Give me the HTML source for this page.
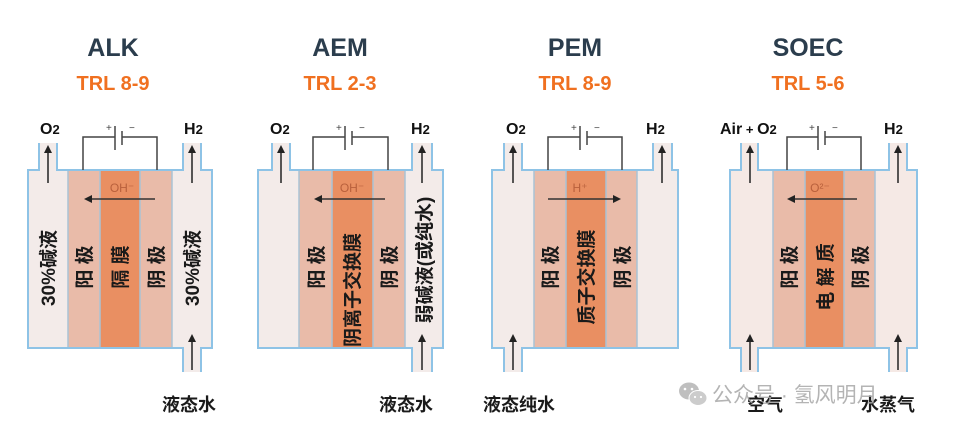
<!DOCTYPE html>
<html><head><meta charset="utf-8"><style>
html,body{margin:0;padding:0;background:#fff;}
svg{display:block;}
.t{font-family:"Liberation Sans","Noto Sans CJK SC",sans-serif;font-weight:bold;}
.c{font-family:"Liberation Sans","Noto Sans CJK SC",sans-serif;font-weight:bold;font-size:19px;fill:#1a1a1a;}
.b{font-family:"Liberation Sans","Noto Sans CJK SC",sans-serif;font-weight:bold;font-size:18px;fill:#1a1a1a;}
</style></head><body>
<svg width="954" height="430" viewBox="0 0 954 430" xmlns="http://www.w3.org/2000/svg">
<defs>
<marker id="ah" markerWidth="8" markerHeight="8" refX="6" refY="4" orient="auto" markerUnits="userSpaceOnUse"><path d="M0,0 L8,4 L0,8 z" fill="#222"/></marker>
</defs>
<g class="t" text-anchor="middle">
<text x="113" y="56" font-size="25" fill="#2b3d4d">ALK</text>
<text x="113" y="90" font-size="20" fill="#f07020">TRL 8-9</text>
<text x="340" y="56" font-size="25" fill="#2b3d4d">AEM</text>
<text x="340" y="90" font-size="20" fill="#f07020">TRL 2-3</text>
<text x="575" y="56" font-size="25" fill="#2b3d4d">PEM</text>
<text x="575" y="90" font-size="20" fill="#f07020">TRL 8-9</text>
<text x="808" y="56" font-size="25" fill="#2b3d4d">SOEC</text>
<text x="808" y="90" font-size="20" fill="#f07020">TRL 5-6</text>
</g>

<!-- ALK -->
<g>
<rect x="39" y="143" width="18" height="30" fill="#f3ebe9"/>
<rect x="183" y="143" width="18" height="229" fill="#f3ebe9"/>
<rect x="28" y="170" width="40" height="178" fill="#f3ebe9"/>
<rect x="68" y="170" width="32" height="178" fill="#e9bba9"/>
<rect x="100" y="170" width="40" height="178" fill="#e98f62"/>
<rect x="140" y="170" width="32" height="178" fill="#e9bba9"/>
<rect x="172" y="170" width="40" height="178" fill="#f3ebe9"/>
<g stroke="#a9c3d6" stroke-width="1.5"><line x1="68" y1="170" x2="68" y2="348"/><line x1="100" y1="170" x2="100" y2="348"/><line x1="140" y1="170" x2="140" y2="348"/><line x1="172" y1="170" x2="172" y2="348"/></g>
<path d="M39,143V170H28V348H183V372 M201,372V348H212V170H201V143 M57,143V170H183V143" fill="none" stroke="#8ec3e6" stroke-width="2"/>
<path d="M83,170V137H115 M122,137H157V170" fill="none" stroke="#444" stroke-width="1.5"/>
<line x1="115" y1="126" x2="115" y2="150" stroke="#444" stroke-width="1.5"/><line x1="122" y1="131" x2="122" y2="145" stroke="#444" stroke-width="1.5"/>
<text x="106" y="131" font-size="10" fill="#444" font-family="Liberation Sans">+</text><text x="129" y="131" font-size="10" fill="#444" font-family="Liberation Sans">−</text>
<line x1="48" y1="183" x2="48" y2="147" stroke="#222" stroke-width="1.5" marker-end="url(#ah)"/>
<line x1="192" y1="183" x2="192" y2="147" stroke="#222" stroke-width="1.5" marker-end="url(#ah)"/>
<line x1="192" y1="370" x2="192" y2="336" stroke="#222" stroke-width="1.5" marker-end="url(#ah)"/>
<line x1="155" y1="199" x2="86" y2="199" stroke="#333" stroke-width="1.5" marker-end="url(#ah)"/>
<text x="122" y="192" font-size="12" fill="#b8603c" font-family="Liberation Sans" text-anchor="middle">OH⁻</text>
<text class="c" transform="translate(55,268) rotate(-90)" text-anchor="middle">30%碱液</text>
<text class="c" transform="translate(199,268) rotate(-90)" text-anchor="middle">30%碱液</text>
<text class="c" transform="translate(91,267) rotate(-90)" text-anchor="middle">阳  极</text>
<text class="c" transform="translate(127,267) rotate(-90)" text-anchor="middle">隔  膜</text>
<text class="c" transform="translate(163,267) rotate(-90)" text-anchor="middle">阴  极</text>
<text class="t" x="40" y="134" font-size="16" fill="#111">O<tspan font-size="13">2</tspan></text>
<text class="t" x="184" y="134" font-size="16" fill="#111">H<tspan font-size="13">2</tspan></text>
<text class="b" x="189" y="411" text-anchor="middle">液态水</text>
</g>

<!-- AEM -->
<g>
<rect x="272" y="143" width="18" height="30" fill="#f3ebe9"/>
<rect x="412" y="143" width="20" height="229" fill="#f3ebe9"/>
<rect x="258" y="170" width="41" height="178" fill="#f3ebe9"/>
<rect x="299" y="170" width="33" height="178" fill="#e9bba9"/>
<rect x="332" y="170" width="41" height="178" fill="#e98f62"/>
<rect x="373" y="170" width="32" height="178" fill="#e9bba9"/>
<rect x="405" y="170" width="38" height="178" fill="#f3ebe9"/>
<g stroke="#a9c3d6" stroke-width="1.5"><line x1="299" y1="170" x2="299" y2="348"/><line x1="332" y1="170" x2="332" y2="348"/><line x1="373" y1="170" x2="373" y2="348"/><line x1="405" y1="170" x2="405" y2="348"/></g>
<path d="M272,143V170H258V348H412V372 M432,372V348H443V170H432V143 M290,143V170H412V143" fill="none" stroke="#8ec3e6" stroke-width="2"/>
<path d="M313,170V137H345 M352,137H388V170" fill="none" stroke="#444" stroke-width="1.5"/>
<line x1="345" y1="126" x2="345" y2="150" stroke="#444" stroke-width="1.5"/><line x1="352" y1="131" x2="352" y2="145" stroke="#444" stroke-width="1.5"/>
<text x="336" y="131" font-size="10" fill="#444" font-family="Liberation Sans">+</text><text x="359" y="131" font-size="10" fill="#444" font-family="Liberation Sans">−</text>
<line x1="281" y1="183" x2="281" y2="147" stroke="#222" stroke-width="1.5" marker-end="url(#ah)"/>
<line x1="422" y1="183" x2="422" y2="147" stroke="#222" stroke-width="1.5" marker-end="url(#ah)"/>
<line x1="422" y1="370" x2="422" y2="336" stroke="#222" stroke-width="1.5" marker-end="url(#ah)"/>
<line x1="385" y1="199" x2="316" y2="199" stroke="#333" stroke-width="1.5" marker-end="url(#ah)"/>
<text x="352" y="192" font-size="12" fill="#b8603c" font-family="Liberation Sans" text-anchor="middle">OH⁻</text>
<text class="c" transform="translate(323,267) rotate(-90)" text-anchor="middle">阳  极</text>
<text class="c" transform="translate(359,290) rotate(-90)" text-anchor="middle">阴离子交换膜</text>
<text class="c" transform="translate(396,267) rotate(-90)" text-anchor="middle">阴  极</text>
<text class="c" transform="translate(431,260) rotate(-90)" text-anchor="middle">弱碱液(或纯水)</text>
<text class="t" x="270" y="134" font-size="16" fill="#111">O<tspan font-size="13">2</tspan></text>
<text class="t" x="411" y="134" font-size="16" fill="#111">H<tspan font-size="13">2</tspan></text>
<text class="b" x="406" y="411" text-anchor="middle">液态水</text>
</g>

<!-- PEM -->
<g>
<rect x="504" y="143" width="18" height="229" fill="#f3ebe9"/>
<rect x="653" y="143" width="19" height="30" fill="#f3ebe9"/>
<rect x="492" y="170" width="42" height="178" fill="#f3ebe9"/>
<rect x="534" y="170" width="32" height="178" fill="#e9bba9"/>
<rect x="566" y="170" width="40" height="178" fill="#e98f62"/>
<rect x="606" y="170" width="31" height="178" fill="#e9bba9"/>
<rect x="637" y="170" width="41" height="178" fill="#f3ebe9"/>
<g stroke="#a9c3d6" stroke-width="1.5"><line x1="534" y1="170" x2="534" y2="348"/><line x1="566" y1="170" x2="566" y2="348"/><line x1="606" y1="170" x2="606" y2="348"/><line x1="637" y1="170" x2="637" y2="348"/></g>
<path d="M504,143V170H492V348H504V372 M522,372V348H678V170H672V143 M522,143V170H653V143" fill="none" stroke="#8ec3e6" stroke-width="2"/>
<path d="M548,170V137H580 M587,137H622V170" fill="none" stroke="#444" stroke-width="1.5"/>
<line x1="580" y1="126" x2="580" y2="150" stroke="#444" stroke-width="1.5"/><line x1="587" y1="131" x2="587" y2="145" stroke="#444" stroke-width="1.5"/>
<text x="571" y="131" font-size="10" fill="#444" font-family="Liberation Sans">+</text><text x="594" y="131" font-size="10" fill="#444" font-family="Liberation Sans">−</text>
<line x1="513" y1="183" x2="513" y2="147" stroke="#222" stroke-width="1.5" marker-end="url(#ah)"/>
<line x1="662" y1="183" x2="662" y2="147" stroke="#222" stroke-width="1.5" marker-end="url(#ah)"/>
<line x1="513" y1="370" x2="513" y2="336" stroke="#222" stroke-width="1.5" marker-end="url(#ah)"/>
<line x1="548" y1="199" x2="619" y2="199" stroke="#333" stroke-width="1.5" marker-end="url(#ah)"/>
<text x="580" y="192" font-size="12" fill="#b8603c" font-family="Liberation Sans" text-anchor="middle">H⁺</text>
<text class="c" transform="translate(557,267) rotate(-90)" text-anchor="middle">阳  极</text>
<text class="c" transform="translate(593,277) rotate(-90)" text-anchor="middle">质子交换膜</text>
<text class="c" transform="translate(629,267) rotate(-90)" text-anchor="middle">阴  极</text>
<text class="t" x="506" y="134" font-size="16" fill="#111">O<tspan font-size="13">2</tspan></text>
<text class="t" x="646" y="134" font-size="16" fill="#111">H<tspan font-size="13">2</tspan></text>
<text class="b" x="519" y="411" text-anchor="middle">液态纯水</text>
</g>

<!-- SOEC -->
<g>
<rect x="741" y="143" width="17" height="229" fill="#f5e9e5"/>
<rect x="889" y="143" width="18" height="229" fill="#f5e9e5"/>
<rect x="730" y="170" width="43" height="178" fill="#f5e9e5"/>
<rect x="773" y="170" width="32" height="178" fill="#e9bba9"/>
<rect x="805" y="170" width="39" height="178" fill="#e98f62"/>
<rect x="844" y="170" width="31" height="178" fill="#e9bba9"/>
<rect x="875" y="170" width="42" height="178" fill="#f5e9e5"/>
<g stroke="#a9c3d6" stroke-width="1.5"><line x1="773" y1="170" x2="773" y2="348"/><line x1="805" y1="170" x2="805" y2="348"/><line x1="844" y1="170" x2="844" y2="348"/><line x1="875" y1="170" x2="875" y2="348"/></g>
<path d="M741,143V170H730V348H741V372 M758,372V348H889V372 M907,372V348H917V170H907V143 M758,143V170H889V143" fill="none" stroke="#8ec3e6" stroke-width="2"/>
<path d="M787,170V137H818 M825,137H861V170" fill="none" stroke="#444" stroke-width="1.5"/>
<line x1="818" y1="126" x2="818" y2="150" stroke="#444" stroke-width="1.5"/><line x1="825" y1="131" x2="825" y2="145" stroke="#444" stroke-width="1.5"/>
<text x="809" y="131" font-size="10" fill="#444" font-family="Liberation Sans">+</text><text x="832" y="131" font-size="10" fill="#444" font-family="Liberation Sans">−</text>
<line x1="750" y1="183" x2="750" y2="147" stroke="#222" stroke-width="1.5" marker-end="url(#ah)"/>
<line x1="898" y1="183" x2="898" y2="147" stroke="#222" stroke-width="1.5" marker-end="url(#ah)"/>
<line x1="750" y1="370" x2="750" y2="336" stroke="#222" stroke-width="1.5" marker-end="url(#ah)"/>
<line x1="898" y1="370" x2="898" y2="336" stroke="#222" stroke-width="1.5" marker-end="url(#ah)"/>
<line x1="857" y1="199" x2="789" y2="199" stroke="#333" stroke-width="1.5" marker-end="url(#ah)"/>
<text x="820" y="192" font-size="12" fill="#b8603c" font-family="Liberation Sans" text-anchor="middle">O²⁻</text>
<text class="c" transform="translate(796,267) rotate(-90)" text-anchor="middle">阳  极</text>
<text class="c" transform="translate(832,277) rotate(-90)" text-anchor="middle">电 解 质</text>
<text class="c" transform="translate(867,267) rotate(-90)" text-anchor="middle">阴  极</text>
<text class="t" x="720" y="134" font-size="16" fill="#111">Air<tspan font-size="13"> + </tspan>O<tspan font-size="13">2</tspan></text>
<text class="t" x="884" y="134" font-size="16" fill="#111">H<tspan font-size="13">2</tspan></text>
<text class="b" x="765" y="411" text-anchor="middle">空气</text>
<text class="b" x="888" y="411" text-anchor="middle">水蒸气</text>
</g>

<!-- watermark -->
<g opacity="0.85">
<ellipse cx="689" cy="391" rx="10" ry="8.5" fill="#b5b5b5"/>
<ellipse cx="698" cy="398" rx="9" ry="7.5" fill="#c4c4c4" stroke="#fff" stroke-width="1"/>
<circle cx="685" cy="389" r="1.3" fill="#fff"/><circle cx="692" cy="389" r="1.3" fill="#fff"/>
<circle cx="695" cy="397" r="1.1" fill="#fff"/><circle cx="701" cy="397" r="1.1" fill="#fff"/>
<text x="712" y="402" font-size="21" fill="#a8a8a8" font-family="Liberation Sans,Noto Sans CJK SC,sans-serif">公众号 · 氢风明月</text>
</g>
</svg>
</body></html>
